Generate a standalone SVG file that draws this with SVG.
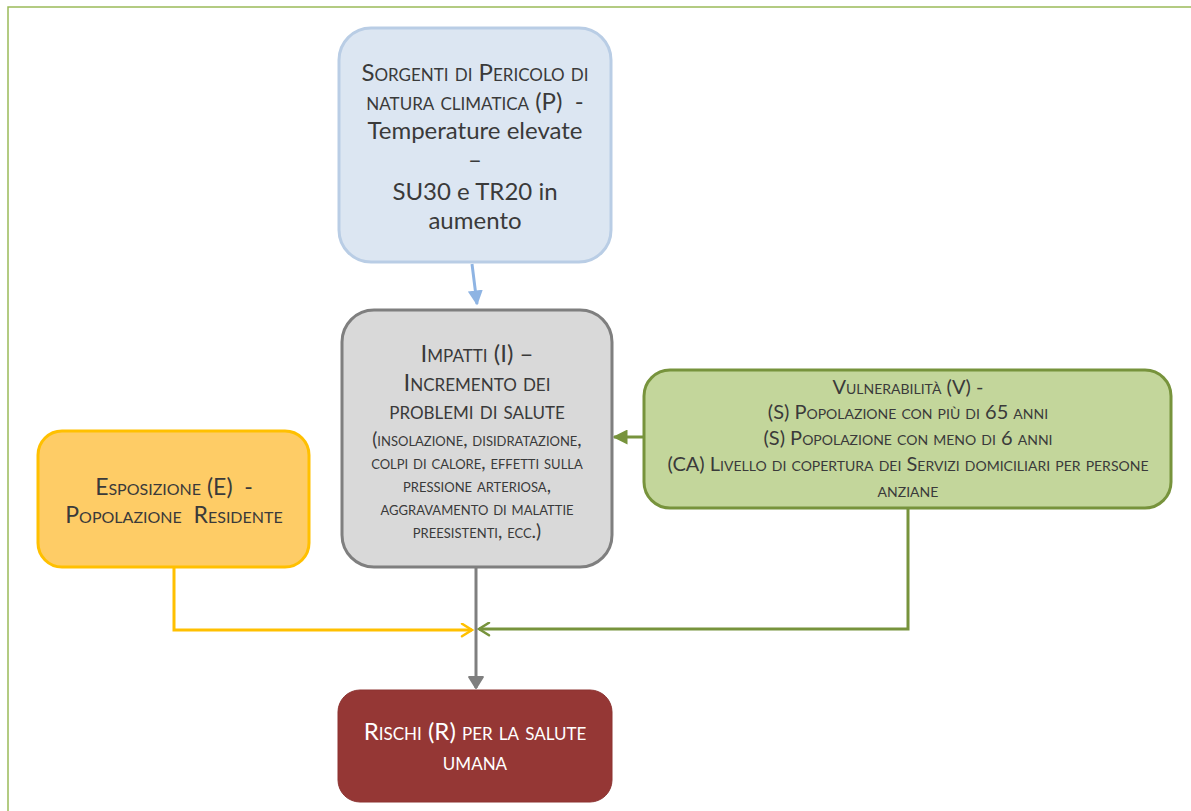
<svg xmlns="http://www.w3.org/2000/svg" width="1191" height="811" viewBox="0 0 1191 811">
<defs>
<style>
text{font-family:Lato,"Carlito","Liberation Sans",sans-serif;text-anchor:middle;white-space:pre;fill:#3a3a3a}
.sc{font-variant:small-caps}
.big{font-size:24px}
.org{font-size:23px}
.mid{font-size:19px}
.sm{font-size:20px}
.w{fill:#ffffff}
</style>
<marker id="triBlue" viewBox="0 0 10 10" refX="9" refY="5" markerWidth="5" markerHeight="5" orient="auto"><path d="M0,0 L10,5 L0,10 Z" fill="#8eb4e3"/></marker>
<marker id="triGreen" viewBox="0 0 10 10" refX="9" refY="5" markerWidth="5" markerHeight="5" orient="auto"><path d="M0,0 L10,5 L0,10 Z" fill="#77933c"/></marker>
<marker id="chevOrange" viewBox="0 0 12 12" refX="10" refY="6" markerWidth="5" markerHeight="5" orient="auto" markerUnits="strokeWidth"><path d="M2,1 L10,6 L2,11" fill="none" stroke="#ffc000" stroke-width="2" stroke-linecap="round"/></marker>
<marker id="chevGreen" viewBox="0 0 12 12" refX="10" refY="6" markerWidth="5" markerHeight="5" orient="auto" markerUnits="strokeWidth"><path d="M2,1 L10,6 L2,11" fill="none" stroke="#77933c" stroke-width="2" stroke-linecap="round"/></marker>
<marker id="chevGrey" viewBox="0 0 12 12" refX="10" refY="6" markerWidth="5.5" markerHeight="5.5" orient="auto" markerUnits="strokeWidth"><path d="M2,1 L10,6 L2,11 Z" fill="#7f7f7f" stroke="#7f7f7f" stroke-width="1.5" stroke-linejoin="round"/></marker>
</defs>
<rect width="1191" height="811" fill="#ffffff"/>
<path d="M8,811 L8,7 L1191,7" fill="none" stroke="#9bbb59" stroke-width="1.5"/>

<g id="connectors" fill="none" stroke-width="3">
<line x1="472" y1="264" x2="477" y2="304" stroke="#8eb4e3" marker-end="url(#triBlue)"/>
<line x1="643" y1="437" x2="614" y2="437" stroke="#77933c" marker-end="url(#triGreen)"/>
<polyline points="174,568 174,630 472,630" stroke="#ffc000" marker-end="url(#chevOrange)"/>
<polyline points="908,509 908,629 479,629" stroke="#77933c" marker-end="url(#chevGreen)"/>
<line x1="476" y1="568" x2="476" y2="688" stroke="#7f7f7f" marker-end="url(#chevGrey)"/>
</g>

<g id="node-pericolo">
<rect x="339" y="28" width="272" height="234" rx="32" fill="#dce6f2" stroke="#b9cde5" stroke-width="3"/>
<text class="big sc" x="475" y="81">Sorgenti di Pericolo di</text>
<text class="big sc" x="475" y="110">natura climatica (P)  -</text>
<text class="big" x="475" y="139">Temperature elevate</text>
<text class="big" x="475" y="168">–</text>
<text class="big" x="475" y="200">SU30 e TR20 in</text>
<text class="big" x="475" y="229">aumento</text>
</g>

<g id="node-impatti">
<rect x="342" y="310" width="270" height="257" rx="32" fill="#d9d9d9" stroke="#7f7f7f" stroke-width="3"/>
<text class="big sc" x="477" y="362">Impatti (I) –</text>
<text class="big sc" x="477" y="391">Incremento dei</text>
<text class="big sc" x="477" y="419">problemi di salute</text>
<text class="mid sc" x="477" y="446">(insolazione, disidratazione,</text>
<text class="mid sc" x="477" y="469">colpi di calore, effetti sulla</text>
<text class="mid sc" x="477" y="492">pressione arteriosa,</text>
<text class="mid sc" x="477" y="515">aggravamento di malattie</text>
<text class="mid sc" x="477" y="538">preesistenti, ecc.)</text>
</g>

<g id="node-vulnerabilita">
<rect x="644" y="370" width="527" height="138" rx="26" fill="#c3d69b" stroke="#77933c" stroke-width="3"/>
<text class="sm sc" x="908" y="394">Vulnerabilità (V) -</text>
<text class="sm sc" x="908" y="419">(S) Popolazione con più di 65 anni</text>
<text class="sm sc" x="908" y="445">(S) Popolazione con meno di 6 anni</text>
<text class="sm sc" x="908" y="471">(CA) Livello di copertura dei Servizi domiciliari per persone</text>
<text class="sm sc" x="908" y="497">anziane</text>
</g>

<g id="node-esposizione">
<rect x="38" y="431" width="271" height="136" rx="24" fill="#fecc66" stroke="#ffc000" stroke-width="3"/>
<text class="org sc" x="174" y="495">Esposizione (E)  -</text>
<text class="org sc" x="174" y="523">Popolazione  Residente</text>
</g>

<g id="node-rischi">
<rect x="338" y="690" width="274" height="112" rx="22" fill="#953735" stroke="#8c3331" stroke-width="1"/>
<text class="big sc w" x="475" y="740">Rischi (R) per la salute</text>
<text class="big sc w" x="475" y="770">umana</text>
</g>
</svg>
